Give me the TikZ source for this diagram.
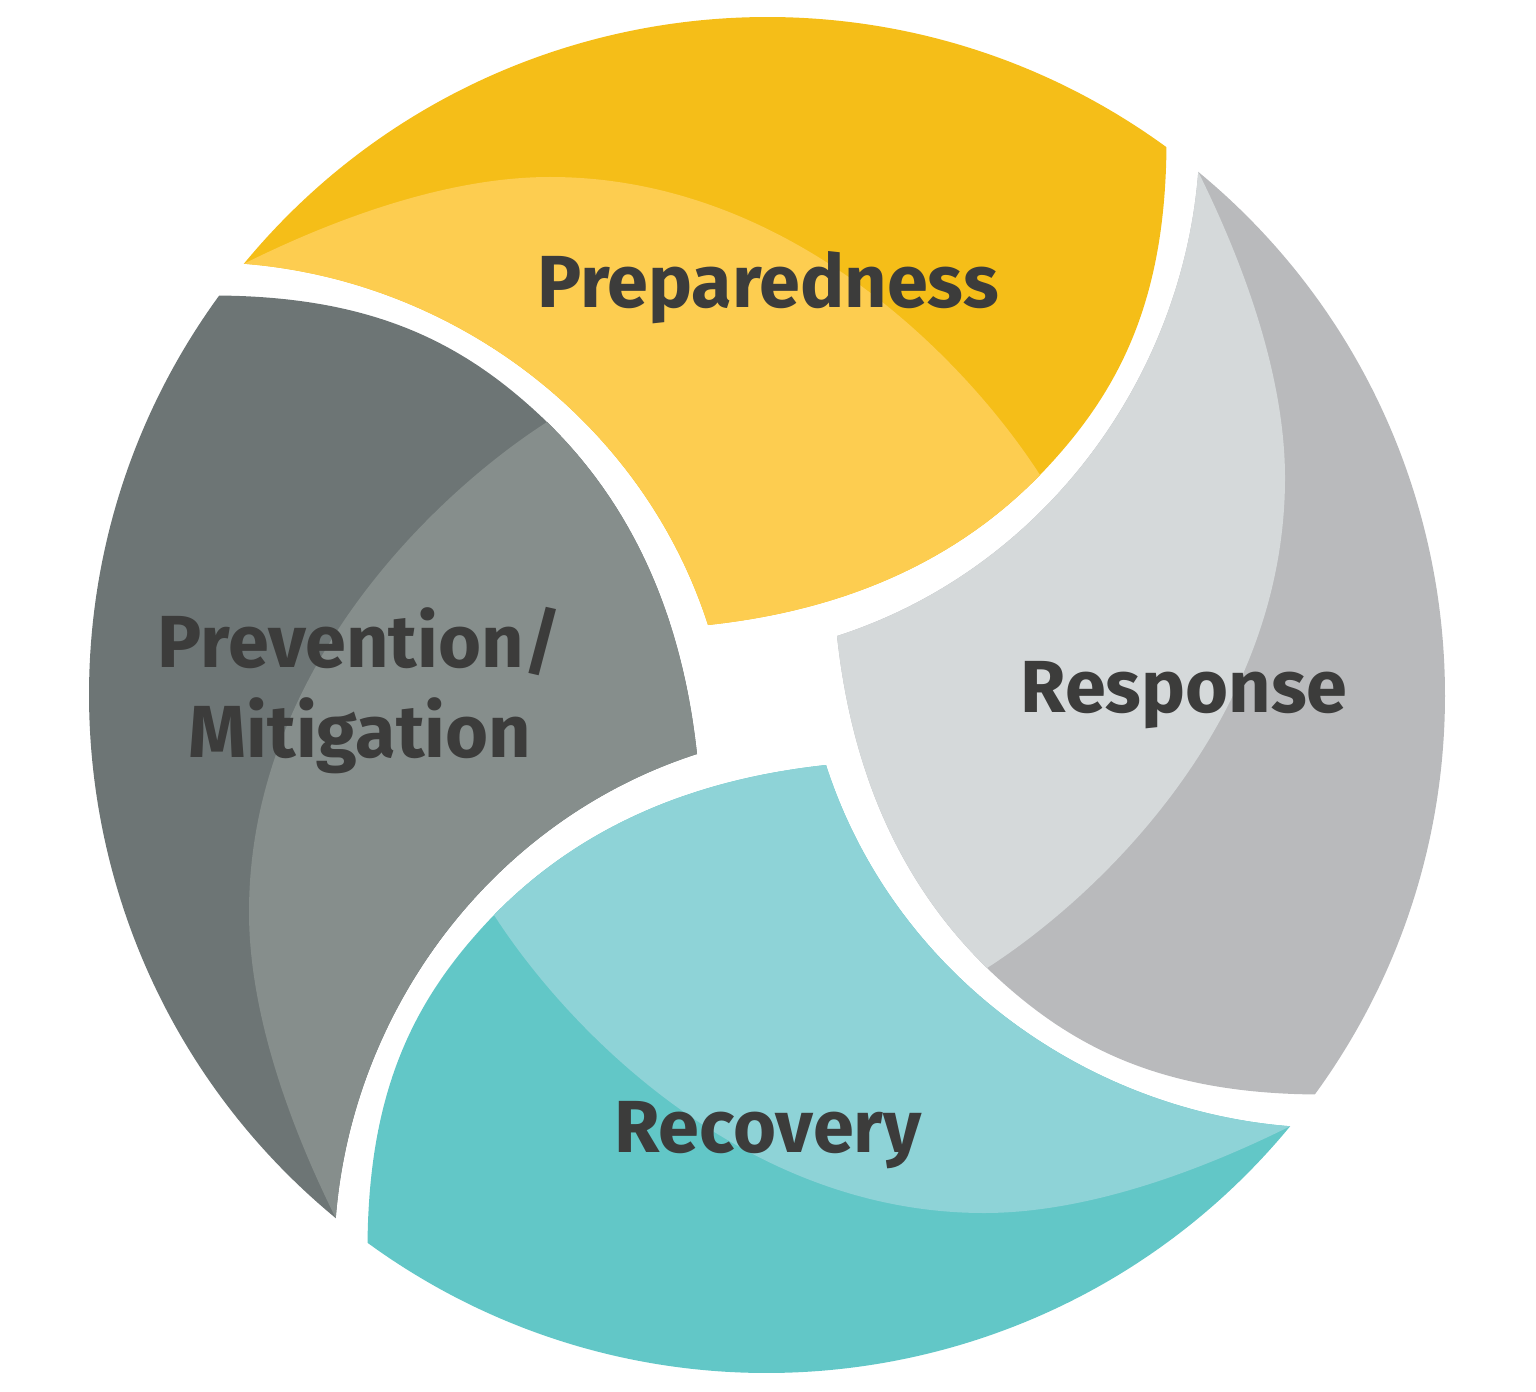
\documentclass[tikz,border=0pt]{standalone}
\usepackage{fontspec}
\setmainfont{Fira Sans}
\definecolor{prepdark}{HTML}{F5BE18}
\definecolor{preplight}{HTML}{FDCD50}
\definecolor{respdark}{HTML}{B9BABC}
\definecolor{resplight}{HTML}{D5D9DA}
\definecolor{recdark}{HTML}{62C7C7}
\definecolor{reclight}{HTML}{8ED3D7}
\definecolor{prevdark}{HTML}{6D7575}
\definecolor{prevlight}{HTML}{868E8C}
\definecolor{phasetext}{HTML}{3C3C3B}
\tikzset{phase/.style={font=\bfseries\fontsize{21}{25.6}\selectfont, text=phasetext, inner sep=0pt, anchor=base, align=center}}
\begin{document}
\begin{tikzpicture}
	\useasboundingbox (0,0) rectangle (15.36,-13.92);
	\def\xC{7.67};
	\def\yC{-6.95};
	\def\R{6.78};
	\coordinate (C) at (\xC,\yC);
	\foreach \ang/\dark/\light in {0/prepdark/preplight,-90/respdark/resplight,-180/recdark/reclight,-270/prevdark/prevlight}{
		\begin{scope}[shift={(C)},rotate=\ang]
			\fill[\dark] (140.5:\R) arc[start angle=140.5, end angle=53.9, radius=\R]
				.. controls (3.98,3.9) and (3.5,3.0) .. (2.73,2.20)
				.. controls (1.9,1.35) and (0.8,0.85) .. (-0.59,0.70)
				.. controls (-1.25,2.75) and (-3.15,4.15) .. cycle;
			\fill[\light] (140.5:\R)
				.. controls (-4.33,4.76) and (-3.2,5.18) .. (-2.17,5.18)
				.. controls (0.22,5.18) and (1.99,3.35) .. (2.73,2.20)
				.. controls (1.9,1.35) and (0.8,0.85) .. (-0.59,0.70)
				.. controls (-1.25,2.75) and (-3.15,4.15) .. cycle;
		\end{scope}
	}
	\node[phase] (prep) at (7.68,-3.08) {Preparedness};
	\node[phase] (resp) at (11.84,-7.12) {Response};
	\node[phase] (rec) at (7.68,-11.52) {Recovery};
	\node[phase] (prev) at (3.60,-7.57) {Prevention/\\Mitigation};
\end{tikzpicture}
\end{document}
